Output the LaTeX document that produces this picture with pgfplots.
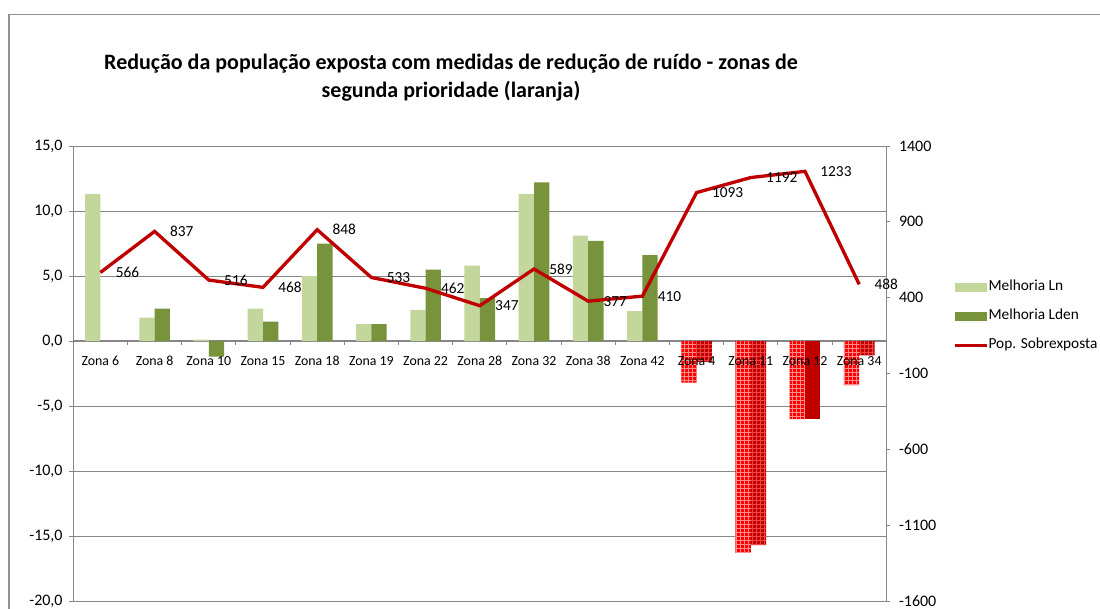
\documentclass[border=0pt]{standalone}
\usepackage{pgfplots}
\pgfplotsset{compat=1.18}
\usetikzlibrary{patterns}
\usepackage{fontspec}
\setmainfont{Carlito}
\definecolor{lnc}{HTML}{C3D69B}
\definecolor{ldc}{HTML}{77933C}
\definecolor{redl}{HTML}{C00000}
\definecolor{axc}{HTML}{868686}
\definecolor{pinkg}{RGB}{255,140,140}
\definecolor{redg}{RGB}{240,70,70}
\newcommand\fa{\fontsize{11.5}{13.8}\selectfont}
\newcommand\ft{\fontsize{12}{14}\selectfont}
\newcommand\fc{\fontsize{10.4}{12.5}\selectfont}
\begin{document}
\begin{tikzpicture}
\useasboundingbox (0,0) rectangle (825pt,456pt);
\draw[color=axc!90, line width=0.8pt] (6.75pt,-10pt) |- (840pt,445.1pt);
\node[align=center, font=\bfseries\fontsize{16.5}{21}\selectfont] at (338.25pt,397.5pt)
  {Redução da população exposta com medidas de redução de ruído - zonas de\\segunda prioridade (laranja)};
\begin{axis}[
  at={(54.975pt,5.25pt)}, anchor=south west,
  scale only axis, width=609.75pt, height=341.25pt,
  xmin=-0.5, xmax=14.5, ymin=-20, ymax=15,
  axis y line=left, axis x line=middle,
  axis line style={-, draw=axc, line width=1pt},
  ytick={-20,-15,...,15},
  ymajorgrids, grid style={axc, line width=0.75pt},
  xtick={0,...,14}, xticklabels={},
  minor xtick={0.5,1.5,...,13.5},
  major x tick style={draw=none},
  minor x tick style={draw=axc, line width=0.75pt},
  y tick style={draw=axc, line width=0.75pt},
  tick align=outside, major tick length=3pt, minor tick length=3pt,
  yticklabel style={font=\ft, xshift=-1.5pt},
  /pgf/number format/assume math mode=true,
  y tick label style={/pgf/number format/.cd, fixed, fixed zerofill, precision=1, use comma},
]
\addplot[ybar, bar width=11.5pt, bar shift=-5.75pt, fill=lnc, draw=none] coordinates {
 (0,11.3) (1,1.8) (2,0.1) (3,2.5) (4,5.0) (5,1.3) (6,2.4) (7,5.8) (8,11.3) (9,8.1) (10,2.3)};
\addplot[ybar, bar width=11.5pt, bar shift=5.75pt, fill=ldc, draw=none] coordinates {
 (1,2.5) (2,-1.2) (3,1.5) (4,7.5) (5,1.3) (6,5.5) (7,3.3) (8,12.2) (9,7.7) (10,6.6)};
\addplot[ybar, bar width=11.5pt, bar shift=-5.75pt, fill=red, draw=none, postaction={pattern=grid, pattern color=pinkg}] coordinates {
 (11,-3.2) (12,-16.3) (13,-6.0) (14,-3.4)};
\addplot[ybar, bar width=11.5pt, bar shift=5.75pt, fill=redl, draw=none, postaction={pattern=grid, pattern color=redg}] coordinates {
 (11,-1.6) (12,-15.7) (14,-1.1)};
\addplot[ybar, bar width=11.5pt, bar shift=5.75pt, fill=redl, draw=none] coordinates {(13,-6.0)};
\end{axis}
\begin{axis}[
  at={(54.975pt,5.25pt)}, anchor=south west,
  scale only axis, width=609.75pt, height=341.25pt,
  xmin=-0.5, xmax=14.5, ymin=-1600, ymax=1400,
  axis y line*=right, axis x line*=bottom,
  axis line style={-, draw=axc, line width=1pt},
  x axis line style={draw=none},
  xtick={0,...,14},
  xticklabels={Zona 6,Zona 8,Zona 10,Zona 15,Zona 18,Zona 19,Zona 22,Zona 28,Zona 32,Zona 38,Zona 42,Zona 4,Zona 11,Zona 12,Zona 34},
  major x tick style={draw=none},
  xticklabel style={font=\fc, anchor=base, yshift=179.75pt},
  ytick={-1600,-1100,...,1400},
  y tick style={draw=axc, line width=0.75pt},
  tick align=outside, major tick length=3pt,
  yticklabel style={font=\ft, xshift=3pt},
  /pgf/number format/assume math mode=true,
  /pgf/number format/1000 sep={},
  legend cell align=left,
  legend style={at={(1.082,0.626)}, anchor=west, draw=none, fill=none, font=\fa,
    inner sep=0pt, row sep=11.3pt,
    nodes={inner sep=0pt, text height=8pt, text depth=2.5pt},
    /tikz/every even column/.append style={column sep=2.5pt}},
]
\addlegendimage{legend image code/.code={\fill[lnc] (0pt,-3pt) rectangle (23.25pt,3pt);}}
\addlegendentry{Melhoria Ln}
\addlegendimage{legend image code/.code={\fill[ldc] (0pt,-3pt) rectangle (23.25pt,3pt);}}
\addlegendentry{Melhoria Lden}
\addplot[redl, line width=2.5pt, mark=none,
  legend image code/.code={\draw[redl, line width=2.5pt] (0pt,0pt) -- (24pt,0pt);},
  nodes near coords, point meta=y,
  every node near coord/.append style={anchor=west, xshift=7pt, font=\fa, text=black,
    /pgf/number format/.cd, fixed, precision=0, 1000 sep={}}]
 coordinates {(0,566) (1,837) (2,516) (3,468) (4,848) (5,533) (6,462) (7,347) (8,589) (9,377) (10,410) (11,1093) (12,1192) (13,1233) (14,488)};
\addlegendentry{Pop. Sobrexposta}
\end{axis}
\end{tikzpicture}
\end{document}
